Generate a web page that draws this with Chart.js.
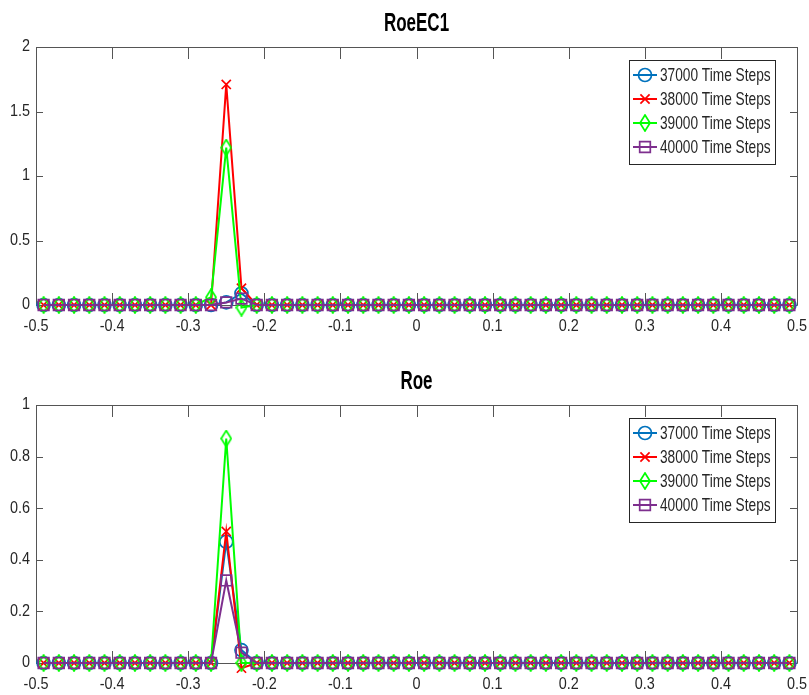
<!DOCTYPE html>
<html>
<head>
<meta charset="utf-8">
<script src="https://cdn.jsdelivr.net/npm/chart.js@4.4.1/dist/chart.umd.min.js"></script>
<style>
  html, body { margin: 0; padding: 0; background: #fff; }
  #wrap { position: relative; width: 809px; height: 695px; }
  .panel { position: absolute; left: 0; width: 809px; }
</style>
</head>
<body>
<div id="wrap">
  <div class="panel" style="top:0;height:350px"><canvas id="topChart"></canvas></div>
  <div class="panel" style="top:350px;height:345px"><canvas id="bottomChart"></canvas></div>
</div>
<script>
// cell centres on the x axis
const xPositions = [
  -0.49, -0.47, -0.45, -0.43, -0.41, -0.39, -0.37, -0.35, -0.33, -0.31,
  -0.29, -0.27, -0.25, -0.23, -0.21, -0.19, -0.17, -0.15, -0.13, -0.11,
  -0.09, -0.07, -0.05, -0.03, -0.01, 0.01, 0.03, 0.05, 0.07, 0.09,
  0.11, 0.13, 0.15, 0.17, 0.19, 0.21, 0.23, 0.25, 0.27, 0.29,
  0.31, 0.33, 0.35, 0.37, 0.39, 0.41, 0.43, 0.45, 0.47, 0.49
];

const seriesLabels = ['37000 Time Steps', '38000 Time Steps', '39000 Time Steps', '40000 Time Steps'];

// RoeEC1 panel
const roeEC1_37000 = [
  0, 0, 0, 0, 0, 0, 0, 0, 0, 0,
  0, 0, 0.02, 0.09, 0, 0, 0, 0, 0, 0,
  0, 0, 0, 0, 0, 0, 0, 0, 0, 0,
  0, 0, 0, 0, 0, 0, 0, 0, 0, 0,
  0, 0, 0, 0, 0, 0, 0, 0, 0, 0
];
const roeEC1_38000 = [
  0, 0, 0, 0, 0, 0, 0, 0, 0, 0,
  0, 0, 1.71, 0.13, 0, 0, 0, 0, 0, 0,
  0, 0, 0, 0, 0, 0, 0, 0, 0, 0,
  0, 0, 0, 0, 0, 0, 0, 0, 0, 0,
  0, 0, 0, 0, 0, 0, 0, 0, 0, 0
];
const roeEC1_39000 = [
  0, 0, 0, 0, 0, 0, 0, 0, 0, 0,
  0, 0.06, 1.22, -0.02, 0, 0, 0, 0, 0, 0,
  0, 0, 0, 0, 0, 0, 0, 0, 0, 0,
  0, 0, 0, 0, 0, 0, 0, 0, 0, 0,
  0, 0, 0, 0, 0, 0, 0, 0, 0, 0
];
const roeEC1_40000 = [
  0, 0, 0, 0, 0, 0, 0, 0, 0, 0,
  0, 0, 0.02, 0.05, 0, 0, 0, 0, 0, 0,
  0, 0, 0, 0, 0, 0, 0, 0, 0, 0,
  0, 0, 0, 0, 0, 0, 0, 0, 0, 0,
  0, 0, 0, 0, 0, 0, 0, 0, 0, 0
];

// Roe panel
const roe_37000 = [
  0, 0, 0, 0, 0, 0, 0, 0, 0, 0,
  0, 0, 0.47, 0.05, 0, 0, 0, 0, 0, 0,
  0, 0, 0, 0, 0, 0, 0, 0, 0, 0,
  0, 0, 0, 0, 0, 0, 0, 0, 0, 0,
  0, 0, 0, 0, 0, 0, 0, 0, 0, 0
];
const roe_38000 = [
  0, 0, 0, 0, 0, 0, 0, 0, 0, 0,
  0, 0, 0.51, -0.02, 0, 0, 0, 0, 0, 0,
  0, 0, 0, 0, 0, 0, 0, 0, 0, 0,
  0, 0, 0, 0, 0, 0, 0, 0, 0, 0,
  0, 0, 0, 0, 0, 0, 0, 0, 0, 0
];
const roe_39000 = [
  0, 0, 0, 0, 0, 0, 0, 0, 0, 0,
  0, 0, 0.87, 0, 0, 0, 0, 0, 0, 0,
  0, 0, 0, 0, 0, 0, 0, 0, 0, 0,
  0, 0, 0, 0, 0, 0, 0, 0, 0, 0,
  0, 0, 0, 0, 0, 0, 0, 0, 0, 0
];
const roe_40000 = [
  0, 0, 0, 0, 0, 0, 0, 0, 0, 0,
  0, 0, 0.32, 0.04, 0, 0, 0, 0, 0, 0,
  0, 0, 0, 0, 0, 0, 0, 0, 0, 0,
  0, 0, 0, 0, 0, 0, 0, 0, 0, 0,
  0, 0, 0, 0, 0, 0, 0, 0, 0, 0
];

const xTicks = [-0.5, -0.4, -0.3, -0.2, -0.1, 0, 0.1, 0.2, 0.3, 0.4, 0.5];
const topYTicks = [0, 0.5, 1, 1.5, 2];
const bottomYTicks = [0, 0.2, 0.4, 0.6, 0.8, 1];

const FONT = "'Liberation Sans', Arial, sans-serif";
const TEXT = '#262626';
const AXIS = '#555555';
const colors = ['#0072BD', '#FF0000', '#00FF00', '#7E2F8E'];

// matlab-style tall diamond marker
function makeDiamond(color) {
  const c = document.createElement('canvas');
  c.width = 12; c.height = 18;
  const g = c.getContext('2d');
  g.strokeStyle = color;
  g.lineWidth = 1.7;
  g.beginPath();
  g.moveTo(6, 1); g.lineTo(11, 9); g.lineTo(6, 17); g.lineTo(1, 9); g.closePath();
  g.stroke();
  return c;
}
const diamond = makeDiamond(colors[2]);
const markers = [
  { pointStyle: 'circle', pointRadius: 6.5 },
  { pointStyle: 'crossRot', pointRadius: 6.5 },
  { pointStyle: diamond, pointRadius: 8 },
  { pointStyle: 'rect', pointRadius: 7.5 }
];

function makeDatasets(seriesList) {
  return seriesList.map((vals, i) => ({
    label: seriesLabels[i],
    data: xPositions.map((x, k) => ({ x: x, y: vals[k] })),
    borderColor: colors[i],
    backgroundColor: 'rgba(0,0,0,0)',
    pointBackgroundColor: 'rgba(0,0,0,0)',
    pointBorderColor: colors[i],
    pointBorderWidth: 1.7,
    borderWidth: 2,
    tension: 0,
    clip: false,
    order: 4 - i, // later series on top, like matlab
    ...markers[i]
  }));
}

// the reference text is horizontally condensed, so draw it squeezed
function squeezedText(ctx, text, x, y, sx, align, font) {
  ctx.save();
  ctx.translate(x, y);
  ctx.scale(sx, 1);
  ctx.font = font;
  ctx.textAlign = align;
  ctx.textBaseline = 'middle';
  ctx.fillText(text, 0, 0);
  ctx.restore();
}

const fmt = v => String(+Number(v).toFixed(2));

// box, inward ticks, tick labels and title
const boxPlugin = {
  id: 'matlabBox',
  beforeDatasetsDraw(chart, args, opts) {
    const { ctx, chartArea: a, scales: { x, y } } = chart;
    ctx.save();
    ctx.strokeStyle = AXIS;
    ctx.lineWidth = 1;
    ctx.beginPath();
    ctx.rect(Math.round(a.left) + 0.5, Math.round(a.top) + 0.5,
      Math.round(a.right - a.left), Math.round(a.bottom - a.top));
    x.ticks.forEach(t => {
      const px = Math.round(x.getPixelForValue(t.value)) + 0.5;
      ctx.moveTo(px, a.bottom); ctx.lineTo(px, a.bottom - 12);
      ctx.moveTo(px, a.top); ctx.lineTo(px, a.top + 12);
    });
    y.ticks.forEach(t => {
      const py = Math.round(y.getPixelForValue(t.value)) + 0.5;
      ctx.moveTo(a.left, py); ctx.lineTo(a.left + 7, py);
      ctx.moveTo(a.right, py); ctx.lineTo(a.right - 7, py);
    });
    ctx.stroke();

    ctx.fillStyle = TEXT;
    const tickFont = '16px ' + FONT;
    x.ticks.forEach(t => {
      squeezedText(ctx, fmt(t.value), x.getPixelForValue(t.value), a.bottom + opts.xLabelOffset, 0.9, 'center', tickFont);
    });
    y.ticks.forEach(t => {
      squeezedText(ctx, fmt(t.value), a.left - 6, y.getPixelForValue(t.value), 0.9, 'right', tickFont);
    });

    ctx.fillStyle = '#000';
    squeezedText(ctx, opts.title, (a.left + a.right) / 2, a.top - 23, 0.68, 'center', 'bold 25px ' + FONT);
    ctx.restore();
  }
};

// boxed legend inside the top-right corner of the plot
const legendPlugin = {
  id: 'insideLegend',
  afterDraw(chart) {
    const { ctx, chartArea: a } = chart;
    const sets = chart.data.datasets;
    const w = 146, rowH = 24, h = 104;
    const left = a.right - 22 - w, top = a.top + 13;
    ctx.save();
    ctx.fillStyle = '#fff';
    ctx.fillRect(left, top, w, h);
    ctx.strokeStyle = TEXT;
    ctx.lineWidth = 1;
    ctx.strokeRect(Math.round(left) + 0.5, Math.round(top) + 0.5, w, h);
    sets.forEach((ds, i) => {
      const cy = top + 15 + i * rowH;
      ctx.strokeStyle = ds.borderColor;
      ctx.lineWidth = 2;
      ctx.beginPath();
      ctx.moveTo(left + 4, cy); ctx.lineTo(left + 28, cy);
      ctx.stroke();
      ctx.fillStyle = 'rgba(0,0,0,0)';
      ctx.lineWidth = ds.pointBorderWidth;
      Chart.helpers.drawPoint(ctx, {
        pointStyle: ds.pointStyle, radius: ds.pointRadius,
        borderWidth: ds.pointBorderWidth, rotation: 0
      }, left + 16, cy);
      ctx.fillStyle = TEXT;
      squeezedText(ctx, ds.label, left + 31, cy + 1, 0.74, 'left', '18.5px ' + FONT);
    });
    ctx.restore();
  }
};

// axes take no room: plot box is set by the layout padding alone
const noRoomX = s => { s.height = 0; s.paddingLeft = 0; s.paddingRight = 0; };
const noRoomY = s => { s.width = 0; s.paddingTop = 0; s.paddingBottom = 0; };

function makeChart(canvasId, title, seriesList, yTicks, topPad, bottomPad, xLabelOffset) {
  return new Chart(document.getElementById(canvasId), {
    type: 'line',
    data: { datasets: makeDatasets(seriesList) },
    plugins: [boxPlugin, legendPlugin],
    options: {
      responsive: true,
      maintainAspectRatio: false,
      animation: false,
      events: [],
      layout: { padding: { left: 36, right: 12, top: topPad, bottom: bottomPad } },
      plugins: {
        legend: { display: false },
        tooltip: { enabled: false },
        title: { display: false },
        matlabBox: { title: title, xLabelOffset: xLabelOffset }
      },
      scales: {
        x: {
          type: 'linear',
          min: xTicks[0], max: xTicks[xTicks.length - 1],
          afterBuildTicks: s => { s.ticks = xTicks.map(v => ({ value: v })); },
          afterFit: noRoomX,
          grid: { display: false },
          border: { display: false },
          ticks: { display: false }
        },
        y: {
          type: 'linear',
          min: yTicks[0], max: yTicks[yTicks.length - 1],
          afterBuildTicks: s => { s.ticks = yTicks.map(v => ({ value: v })); },
          afterFit: noRoomY,
          grid: { display: false },
          border: { display: false },
          ticks: { display: false }
        }
      }
    }
  });
}

makeChart('topChart', 'RoeEC1', [roeEC1_37000, roeEC1_38000, roeEC1_39000, roeEC1_40000], topYTicks, 47, 45, 22);
makeChart('bottomChart', 'Roe', [roe_37000, roe_38000, roe_39000, roe_40000], bottomYTicks, 55, 32, 21.5);
</script>
</body>
</html>
